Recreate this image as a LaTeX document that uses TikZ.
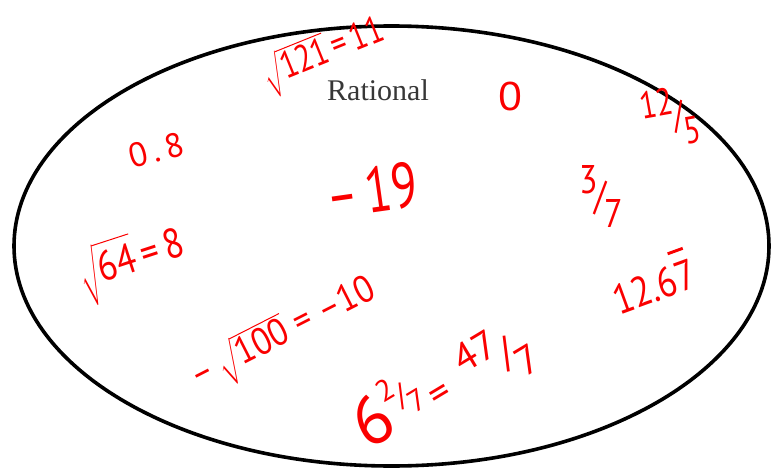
\documentclass[tikz,border=0pt]{standalone}
\usepackage{exscale}
\usepackage{fontspec}
\setmainfont{Liberation Serif}
\newfontfamily\hwfont{PT Sans}
\usetikzlibrary{shapes.geometric}
\definecolor{ink}{RGB}{250,0,0}
\definecolor{labelgray}{RGB}{55,55,55}
\newcommand\fs[1]{\fontsize{#1}{#1}\selectfont}
\newcommand\nar[2]{\scalebox{#1}[1]{#2}}
\newcommand\dfr[2]{\raisebox{0.4em}{#1}\kern-0.08em/\kern-0.08em\raisebox{-0.45em}{#2}}
\newcommand\rep[1]{\rlap{\kern0.02em\raisebox{0.95em}{\rule{0.45em}{0.07em}}}#1}
\newcommand\hroot[1]{$\sqrt{\mbox{#1\rule[-0.35em]{0pt}{1.05em}}}$}
\tikzset{
  hw/.style={text=ink, inner sep=0pt, font=\hwfont},
  setshape/.style={draw=black, line width=3.6pt, ellipse, inner sep=0pt,
                   minimum width=755pt, minimum height=440pt},
}
\begin{document}
\begin{tikzpicture}[x=1pt,y=-1pt]
\useasboundingbox (0,0) rectangle (774,471);
\node[setshape] (set) at (391.5,246) {};
\node[font=\fs{30}, text=labelgray, inner sep=0pt] (title) at (378,90) {Rational};
\node[hw, rotate=22] (s121) at (324,55) {\fs{38}\nar{0.8}{\hroot{121}\,=\,11}};
\node[hw] (zero) at (510,96) {\fs{40}\nar{1.1}{0}};
\node[hw, rotate=10] (f125) at (670,117) {\fs{38}\nar{0.8}{\dfr{12}{5}}};
\node[hw, rotate=15] (dec) at (156,150) {\fs{34}0\,.\,8};
\node[hw, rotate=8] (m19) at (372,190) {\fs{64}\nar{0.75}{–\,19}};
\node[hw] (f37) at (601,196) {\fs{40}\nar{0.85}{\dfr{3}{7}}};
\node[hw, rotate=18] (s64) at (132,263) {\fs{42}\nar{0.85}{\hroot{64}\,=\,8}};
\node[hw, rotate=20] (rpt) at (652,281) {\fs{42}\nar{0.85}{12.6\rep{7}}};
\node[hw, rotate=27] (s100) at (284,335) {\fs{38}\nar{0.9}{–\,\hroot{100}\;=\;–10}};
\node[hw, rotate=31] (mixed) at (442,385) {{\fs{68}6}{\fs{30}\raisebox{0.7em}{\dfr{2}{7}}}\enspace{\fs{40}=\enspace\dfr{47}{7}}};
\end{tikzpicture}
\end{document}
